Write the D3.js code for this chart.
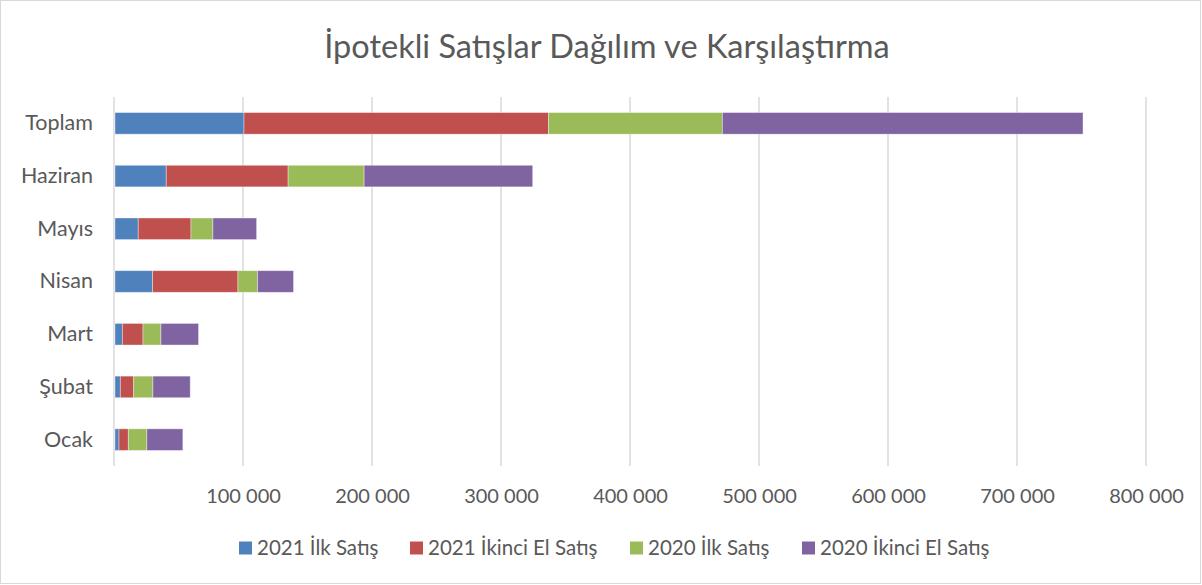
<!DOCTYPE html>
<html>
<head>
<meta charset="utf-8">
<script src="https://cdn.jsdelivr.net/npm/d3@7"></script>
<style>
  body { margin: 0; background: #fff; }
  svg text { font-family: Lato, "Open Sans", sans-serif; fill: #595959; }
</style>
</head>
<body>
<svg width="1202" height="585"></svg>
<script>
var months = ["Toplam", "Haziran", "Mayıs", "Nisan", "Mart", "Şubat", "Ocak"];
var seriesNames = ["2021 İlk Satış", "2021 İkinci El Satış", "2020 İlk Satış", "2020 İkinci El Satış"];
var ilk2021   = [100000, 39700, 18000, 29200, 5700, 4100, 3100];
var ikinci2021 = [236000, 94500, 40900, 66100, 16000, 10400, 7200];
var ilk2020   = [134800, 58900, 17000, 15200, 13900, 14900, 14400];
var ikinci2020 = [279600, 130700, 33900, 27900, 29200, 28900, 27900];
var xTicks = [0, 100000, 200000, 300000, 400000, 500000, 600000, 700000, 800000];
var colors = ["#4f81bd", "#c0504d", "#9bbb59", "#8064a2"];

var svg = d3.select("svg");
var margin = {top: 97, right: 56, bottom: 119, left: 114},
    width = 1202 - margin.left - margin.right,
    height = 585 - margin.top - margin.bottom;

// outer frame
svg.append("rect")
    .attr("x", 0.5).attr("y", 0.5)
    .attr("width", 1200).attr("height", 583)
    .attr("fill", "#fff").attr("stroke", "#d9d9d9");

svg.append("text")
    .attr("x", 607).attr("y", 58)
    .attr("text-anchor", "middle")
    .style("font-size", "32.5px")
    .text("İpotekli Satışlar Dağılım ve Karşılaştırma");

var data = months.map(function(m, i) {
  return {month: m, s0: ilk2021[i], s1: ikinci2021[i], s2: ilk2020[i], s3: ikinci2020[i]};
});

var x = d3.scaleLinear().domain([0, 800000]).range([0, width]);
var y = d3.scaleBand().domain(months).range([0, height]).paddingInner(0.59).paddingOuter(0.295);

var g = svg.append("g").attr("transform", "translate(" + margin.left + "," + margin.top + ")");

var fmt = d3.formatLocale({decimal: ",", thousands: " ", grouping: [3], currency: ["", ""]}).format(",");

// gridlines
g.selectAll(".grid")
  .data(xTicks)
  .enter().append("line")
    .attr("x1", function(d) { return x(d); })
    .attr("x2", function(d) { return x(d); })
    .attr("y1", 0).attr("y2", height)
    .attr("stroke", "#d9d9d9").attr("stroke-width", 1.5);

var stack = d3.stack().keys(["s0", "s1", "s2", "s3"]);

var layer = g.selectAll(".layer")
  .data(stack(data))
  .enter().append("g")
    .attr("fill", function(d, i) { return colors[i]; });

layer.selectAll("rect")
  .data(function(d) { return d; })
  .enter().append("rect")
    .attr("x", function(d) { return x(d[0]) + 1; })
    .attr("y", function(d) { return y(d.data.month); })
    .attr("width", function(d) { return x(d[1]) - x(d[0]); })
    .attr("height", y.bandwidth())
    .attr("stroke", "#fff").attr("stroke-opacity", 0.5).attr("stroke-width", 0.75);

// x axis labels
var xAxis = d3.axisBottom(x).tickValues(xTicks)
    .tickSize(0).tickPadding(0)
    .tickFormat(function(d) { return d === 0 ? "" : fmt(d); });
var xa = g.append("g").attr("transform", "translate(0," + (height + 30) + ")").call(xAxis);
xa.select(".domain").remove();
xa.selectAll("text").style("font-size", "20px").attr("fill", "#595959").attr("dy", "0.35em");

// y axis labels
var yAxis = d3.axisLeft(y).tickSize(0).tickPadding(21);
var ya = g.append("g").call(yAxis);
ya.select(".domain").remove();
ya.selectAll("text").style("font-size", "21.5px").attr("fill", "#595959");

// legend
var legendX = [239, 410, 630, 802];
var legend = svg.append("g").attr("transform", "translate(0,548)");
var item = legend.selectAll(".item")
  .data(seriesNames)
  .enter().append("g")
    .attr("transform", function(d, i) { return "translate(" + legendX[i] + ",0)"; });
item.append("rect")
    .attr("x", 0).attr("y", -6.5)
    .attr("width", 13).attr("height", 13)
    .attr("fill", function(d, i) { return colors[i]; });
item.append("text")
    .attr("x", 18).attr("dy", "0.35em")
    .style("font-size", "20.5px")
    .text(function(d) { return d; });
</script>
</body>
</html>
